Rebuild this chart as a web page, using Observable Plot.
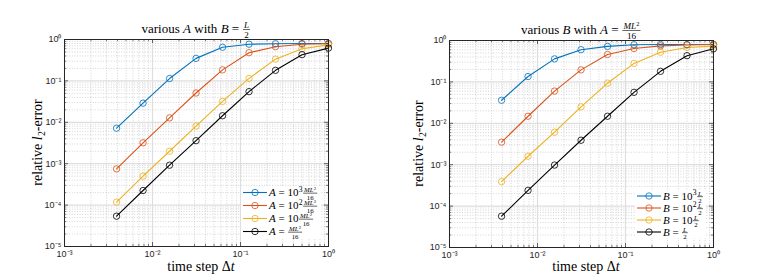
<!DOCTYPE html>
<html><head><meta charset="utf-8">
<script src="https://cdn.jsdelivr.net/npm/d3@7"></script>
<script src="https://cdn.jsdelivr.net/npm/@observablehq/plot@0.6"></script>
<style>
body{margin:0;background:#fff}
#wrap{position:relative;width:761px;height:278px;overflow:hidden;background:#fff}
.panel{position:absolute;top:0}
</style>
</head><body><div id="wrap"></div>
<script>
// ---- data ----
const dt = [1/256, 1/128, 1/64, 1/32, 1/16, 1/8, 1/4, 1/2, 1];
const leftSeries = ["A = 1e3 ML²/16", "A = 1e2 ML²/16", "A = 10 ML²/16", "A = ML²/16"];
const leftA1000 = [0.0072, 0.029, 0.114, 0.35, 0.65, 0.77, 0.79, 0.80, 0.80];
const leftA100  = [7.5e-4, 3.2e-3, 0.0128, 0.051, 0.185, 0.48, 0.67, 0.77, 0.79];
const leftA10   = [1.18e-4, 5.0e-4, 2.0e-3, 8.1e-3, 0.032, 0.115, 0.335, 0.60, 0.74];
const leftA1    = [5.4e-5, 2.25e-4, 9.2e-4, 3.6e-3, 0.0144, 0.055, 0.18, 0.43, 0.62];
const rightSeries = ["B = 1e3 L/2", "B = 1e2 L/2", "B = 10 L/2", "B = L/2"];
const rightB1000 = [0.036, 0.135, 0.36, 0.60, 0.72, 0.79, 0.80, 0.80, 0.80];
const rightB100  = [3.5e-3, 0.0148, 0.06, 0.195, 0.46, 0.64, 0.74, 0.78, 0.80];
const rightB10   = [3.9e-4, 1.6e-3, 6.1e-3, 0.025, 0.093, 0.28, 0.52, 0.68, 0.73];
const rightB1    = [5.7e-5, 2.4e-4, 9.8e-4, 3.9e-3, 0.0148, 0.056, 0.18, 0.43, 0.63];
const xMajor = [1e-3, 1e-2, 1e-1, 1];
const yMajor = [1e-5, 1e-4, 1e-3, 1e-2, 1e-1, 1];
const colors = ["#0072BD", "#D95319", "#EDB120", "#000000"];

const minorOf = (majors) => {
  const out = [];
  for (let i = 0; i < majors.length - 1; i++) for (let k = 2; k <= 9; k++) out.push(k * majors[i]);
  return out;
};
const xMinor = minorOf(xMajor), yMinor = minorOf(yMajor);
const supMap = {"0":"⁰","1":"¹","2":"²","3":"³","4":"⁴","5":"⁵","-":"⁻"};
const fmt = v => "10" + String(Math.round(Math.log10(v))).split("").map(c => supMap[c]).join("");

const SERIF = "Liberation Serif, Times New Roman, serif";
const SANS = "Liberation Sans, Arial, Helvetica, sans-serif";
const AX = "#262626";

function rows(names, arrs) {
  const r = [];
  names.forEach((n, i) => arrs[i].forEach((v, j) => r.push({s: n, dt: dt[j], e: v})));
  return r;
}

function panel(cfg) {
  const ih = cfg.height - cfg.mt - cfg.mb, iw = cfg.width - cfg.ml - cfg.mr;
  const data = rows(cfg.series, cfg.values);
  return Plot.plot({
    width: cfg.width, height: cfg.height,
    marginLeft: cfg.ml, marginRight: cfg.mr, marginTop: cfg.mt, marginBottom: cfg.mb,
    style: {background: "transparent", overflow: "visible"},
    x: {type: "log", domain: [1e-3, 1], axis: null},
    y: {type: "log", domain: [1e-5, 1], axis: null},
    color: {domain: cfg.series, range: colors},
    marks: [
      Plot.ruleX(xMinor, {x: d => d, stroke: "#b8b8b8", strokeWidth: 0.6, strokeDasharray: "1,1.6"}),
      Plot.ruleY(yMinor, {y: d => d, stroke: "#b8b8b8", strokeWidth: 0.6, strokeDasharray: "1,1.6"}),
      Plot.ruleX(xMajor, {x: d => d, stroke: "#dedede", strokeWidth: 1.2}),
      Plot.ruleY(yMajor, {y: d => d, stroke: "#dedede", strokeWidth: 1.2}),
      Plot.line(data, {x: "dt", y: "e", z: "s", stroke: "s", strokeWidth: 1.1}),
      Plot.dot(data, {x: "dt", y: "e", stroke: "s", r: 3.2, fill: "none", strokeWidth: 0.8}),
      // inward ticks on all four sides
      Plot.tickX(xMajor, {x: d => d, insetTop: ih - 4, stroke: AX, strokeWidth: 0.7}),
      Plot.tickX(xMajor, {x: d => d, insetBottom: ih - 4, stroke: AX, strokeWidth: 0.7}),
      Plot.tickX(xMinor, {x: d => d, insetTop: ih - 2.2, stroke: AX, strokeWidth: 0.6}),
      Plot.tickX(xMinor, {x: d => d, insetBottom: ih - 2.2, stroke: AX, strokeWidth: 0.6}),
      Plot.tickY(yMajor, {y: d => d, insetRight: iw - 4, stroke: AX, strokeWidth: 0.7}),
      Plot.tickY(yMajor, {y: d => d, insetLeft: iw - 4, stroke: AX, strokeWidth: 0.7}),
      Plot.tickY(yMinor, {y: d => d, insetRight: iw - 2.2, stroke: AX, strokeWidth: 0.6}),
      Plot.tickY(yMinor, {y: d => d, insetLeft: iw - 2.2, stroke: AX, strokeWidth: 0.6}),
      Plot.frame({stroke: AX, strokeWidth: 1}),
      Plot.text(xMajor, {x: d => d, frameAnchor: "bottom", dy: 10, text: fmt, fontSize: 9, fontFamily: SANS, fill: AX}),
      Plot.text(yMajor, {y: d => d, frameAnchor: "left", dx: -3, textAnchor: "end", text: fmt, fontSize: 9, fontFamily: SANS, fill: AX})
    ]
  });
}

// ---- math-ish text helper ----
function txt(g, s, x, y, size, italic) {
  const t = g.append("text").attr("x", x).attr("y", y).attr("font-size", size)
    .attr("font-family", SERIF).attr("text-anchor", "start").attr("fill", "#000").text(s);
  if (italic) t.attr("font-style", "italic");
  return t.node().getComputedTextLength();
}
function renderMath(g, parts, x, y, size, fk = 0.7) {
  let cx = x;
  for (const p of parts) {
    if (typeof p === "string") cx += txt(g, p, cx, y, size, false);
    else if (p.i !== undefined) cx += txt(g, p.i, cx, y, size, true);
    else if (p.sup !== undefined) cx += txt(g, p.sup, cx + 0.3, y - size * 0.38, size * 0.7, false) + 0.3;
    else if (p.sub !== undefined) cx += txt(g, p.sub, cx + 0.3, y + size * 0.22, size * 0.7, false) + 0.3;
    else if (p.frac) {
      const fs = size * fk;
      const gn = g.append("g"), gd = g.append("g");
      const wn = renderMath(gn, p.frac[0], 0, 0, fs);
      const wd = renderMath(gd, p.frac[1], 0, 0, fs);
      const w = Math.max(wn, wd) + 2;
      gn.attr("transform", `translate(${cx + 0.5 + (w - wn) / 2},${y - size * 0.36})`);
      gd.attr("transform", `translate(${cx + 0.5 + (w - wd) / 2},${y + size * (fk * 0.5)})`);
      g.append("line").attr("x1", cx + 0.5).attr("x2", cx + w + 0.5)
        .attr("y1", y - size * 0.27).attr("y2", y - size * 0.27)
        .attr("stroke", "#000").attr("stroke-width", 0.6);
      cx += w + 1;
    }
  }
  return cx - x;
}
function mathAt(svg, parts, x, y, size, anchor, rotate, fk) {
  const outer = svg.append("g").attr("transform", `translate(${x},${y})` + (rotate ? ` rotate(${rotate})` : ""));
  const g = outer.append("g");
  const w = renderMath(g, parts, 0, 0, size, fk);
  const dx = anchor === "middle" ? -w / 2 : anchor === "end" ? -w : 0;
  g.attr("transform", `translate(${dx},0)`);
  return w;
}

function legend(svg, box, rowsY, lineX, labels, size) {
  svg.append("rect").attr("x", box[0]).attr("y", box[1]).attr("width", box[2]).attr("height", box[3]).attr("fill", "#fff");
  rowsY.forEach((ry, i) => {
    svg.append("line").attr("x1", lineX).attr("x2", lineX + 24).attr("y1", ry).attr("y2", ry)
      .attr("stroke", colors[i]).attr("stroke-width", 1.1);
    svg.append("circle").attr("cx", lineX + 12).attr("cy", ry).attr("r", 3.2)
      .attr("fill", "none").attr("stroke", colors[i]).attr("stroke-width", 0.8);
    mathAt(svg, labels[i], lineX + 26, ry + size * 0.33, size, "start", 0, 0.62);
  });
}

const wrap = document.getElementById("wrap");
const ML2 = [{i: "ML"}, {sup: "2"}];

// left panel
const p1 = panel({width: 380, height: 278, ml: 64, mr: 52, mt: 39, mb: 32,
  series: leftSeries, values: [leftA1000, leftA100, leftA10, leftA1]});
p1.classList.add("panel"); p1.style.left = "0px";
wrap.appendChild(p1);
const s1 = d3.select(p1);
mathAt(s1, ["various ", {i: "A"}, " with ", {i: "B"}, " = ", {frac: [[{i: "L"}], ["2"]]}], 196, 33, 13, "middle");
mathAt(s1, ["time step Δ", {i: "t"}], 201, 271, 14, "middle");
mathAt(s1, ["relative ", {i: "l"}, {sub: "2"}, "-error"], 42, 142.5, 14, "middle", -90);
legend(s1, [241, 187, 80, 51], [192.5, 205.5, 218.5, 231.5], 243, [
  [{i: "A"}, " = 10", {sup: "3"}, {frac: [ML2, ["16"]]}],
  [{i: "A"}, " = 10", {sup: "2"}, {frac: [ML2, ["16"]]}],
  [{i: "A"}, " = 10", {frac: [ML2, ["16"]]}],
  [{i: "A"}, " = ", {frac: [ML2, ["16"]]}]
], 11);

// right panel
const p2 = panel({width: 381, height: 278, ml: 69, mr: 48, mt: 40, mb: 31,
  series: rightSeries, values: [rightB1000, rightB100, rightB10, rightB1]});
p2.classList.add("panel"); p2.style.left = "380px";
wrap.appendChild(p2);
const s2 = d3.select(p2);
mathAt(s2, ["various ", {i: "B"}, " with ", {i: "A"}, " = ", {frac: [ML2, ["16"]]}], 201, 34, 13, "middle");
mathAt(s2, ["time step Δ", {i: "t"}], 206, 271, 14, "middle");
mathAt(s2, ["relative ", {i: "l"}, {sub: "2"}, "-error"], 43, 143.5, 14, "middle", -90);
legend(s2, [255, 191, 71, 47], [196, 208, 220, 232], 257, [
  [{i: "B"}, " = 10", {sup: "3"}, {frac: [[{i: "L"}], ["2"]]}],
  [{i: "B"}, " = 10", {sup: "2"}, {frac: [[{i: "L"}], ["2"]]}],
  [{i: "B"}, " = 10", {frac: [[{i: "L"}], ["2"]]}],
  [{i: "B"}, " = ", {frac: [[{i: "L"}], ["2"]]}]
], 11);
</script>
</body></html>
